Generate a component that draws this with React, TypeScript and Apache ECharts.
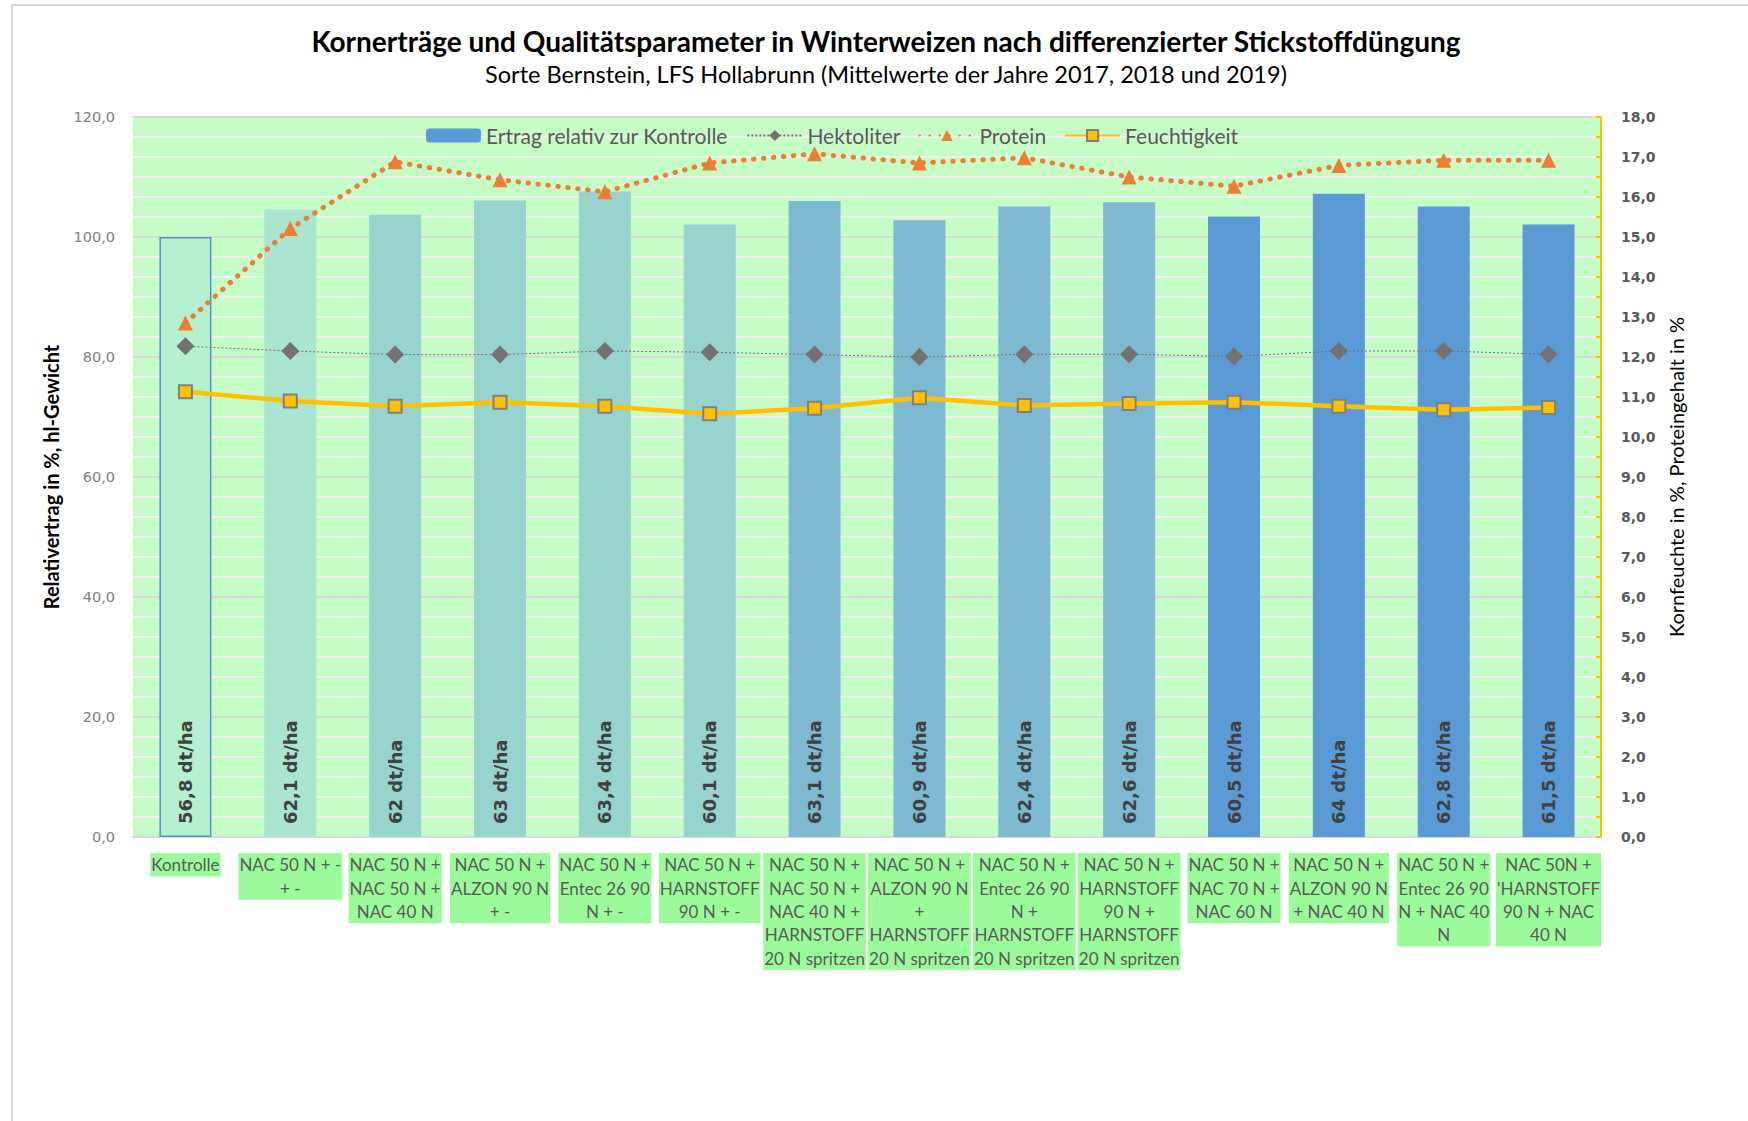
import React, { useEffect, useRef } from "react";
import * as echarts from "echarts";

const categories = [
  "Kontrolle",
  "NAC 50 N + -\n+ -",
  "NAC 50 N +\nNAC 50 N +\nNAC 40 N",
  "NAC 50 N +\nALZON 90 N\n+ -",
  "NAC 50 N +\nEntec 26 90\nN + -",
  "NAC 50 N +\nHARNSTOFF\n90 N + -",
  "NAC 50 N +\nNAC 50 N +\nNAC 40 N +\nHARNSTOFF\n20 N spritzen",
  "NAC 50 N +\nALZON 90 N\n+\nHARNSTOFF\n20 N spritzen",
  "NAC 50 N +\nEntec 26 90\nN +\nHARNSTOFF\n20 N spritzen",
  "NAC 50 N +\nHARNSTOFF\n90 N +\nHARNSTOFF\n20 N spritzen",
  "NAC 50 N +\nNAC 70 N +\nNAC 60 N",
  "NAC 50 N +\nALZON 90 N\n+ NAC 40 N",
  "NAC 50 N +\nEntec 26 90\nN + NAC 40\nN",
  "NAC 50N +\n'HARNSTOFF\n90 N + NAC\n40 N",
];

const relYield = [100, 104.6, 103.7, 106.1, 107.6, 102.1, 106.0, 102.8, 105.1, 105.8, 103.4, 107.2, 105.1, 102.1];
const yieldDtHa = [56.8, 62.1, 62, 63, 63.4, 60.1, 63.1, 60.9, 62.4, 62.6, 60.5, 64, 62.8, 61.5];
const hektoliter = [81.8, 81.0, 80.4, 80.4, 81.0, 80.8, 80.4, 80.0, 80.45, 80.45, 80.1, 81.0, 81.0, 80.45];
const protein = [12.85, 15.21, 16.88, 16.43, 16.13, 16.85, 17.08, 16.85, 16.98, 16.5, 16.27, 16.79, 16.92, 16.92];
const feuchtigkeit = [11.13, 10.9, 10.77, 10.87, 10.77, 10.58, 10.72, 10.98, 10.79, 10.84, 10.87, 10.77, 10.68, 10.74];

const leftTicks = { min: 0, max: 120, interval: 20 };
const rightTicks = { min: 0, max: 18, interval: 1 };

const barFills = [
  "#b5f0d0", "#a9e5d0", "#96d4cd", "#96d4cd", "#96d4cd", "#96d4cd",
  "#7db9d1", "#7db9d1", "#7db9d1", "#7db9d1",
  "#5b9bd5", "#5b9bd5", "#5b9bd5", "#5b9bd5",
];

const comma = (v: number, d: number) => v.toFixed(d).replace(".", ",");
const yieldLabel = (v: number) => String(v).replace(".", ",") + " dt/ha";

const CAL = "Lato, 'Noto Sans', sans-serif";
const VER = "'DejaVu Sans', Verdana, sans-serif";

export default function App() {
  const ref = useRef<HTMLDivElement>(null);
  useEffect(() => {
    if (!ref.current) return;
    const chart = echarts.init(ref.current, null, { renderer: "svg" });
    const option: any = {
      animation: false,
      backgroundColor: "#ffffff",
      graphic: [
        {
          type: "rect",
          z: -10,
          shape: { x: 12, y: 5, width: 1800, height: 1300 },
          style: { fill: "none", stroke: "#d9d9d9", lineWidth: 2 },
        },
        {
          type: "text",
          x: 886,
          y: 41,
          style: {
            text: "Kornerträge und Qualitätsparameter in Winterweizen nach differenzierter Stickstoffdüngung",
            font: `bold 28px ${CAL}`,
            fill: "#000000",
            align: "center",
            verticalAlign: "middle",
          },
        },
        {
          type: "text",
          x: 886,
          y: 74,
          style: {
            text: "Sorte Bernstein, LFS Hollabrunn (Mittelwerte der Jahre 2017, 2018 und 2019)",
            font: `23.5px ${CAL}`,
            fill: "#000000",
            align: "center",
            verticalAlign: "middle",
          },
        },
      ],
      legend: {
        left: 421,
        top: 120,
        itemWidth: 55,
        itemHeight: 14,
        itemGap: 18,
        textStyle: { fontFamily: CAL, fontSize: 21, color: "#595959" },
        data: ["Ertrag relativ zur Kontrolle", "Hektoliter", "Protein", "Feuchtigkeit"],
      },
      grid: {
        left: 133,
        top: 117,
        width: 1468,
        height: 720,
        show: true,
        backgroundColor: "#c6fdc6",
        borderWidth: 0,
      },
      xAxis: {
        type: "category",
        data: categories,
        axisLine: { show: true, lineStyle: { color: "#d9d9d9", width: 2 } },
        axisTick: { show: false },
        axisLabel: {
          interval: 0,
          margin: 16,
          fontFamily: CAL,
          fontSize: 17,
          lineHeight: 23.4,
          color: "#595959",
          backgroundColor: "#9bfb9b",
          padding: [0, 1, 0, 1],
        },
      },
      yAxis: [
        {
          type: "value",
          min: leftTicks.min,
          max: leftTicks.max,
          interval: leftTicks.interval,
          name: "Relativertrag in %, hl-Gewicht",
          nameLocation: "middle",
          nameGap: 72,
          nameTextStyle: { fontFamily: CAL, fontSize: 20, fontWeight: "bold", color: "#000000" },
          axisLine: { show: false },
          axisTick: { show: false },
          axisLabel: {
            margin: 18,
            fontFamily: VER,
            fontSize: 14.5,
            color: "#808080",
            formatter: (v: number) => comma(v, 1),
          },
          splitLine: { show: true, lineStyle: { color: "#d9d9d9", width: 2 } },
          minorTick: { show: false, splitNumber: 6 },
          minorSplitLine: { show: true, lineStyle: { color: "#f0f0f0", width: 2 } },
        },
        {
          type: "value",
          position: "right",
          min: rightTicks.min,
          max: rightTicks.max,
          interval: rightTicks.interval,
          name: "Kornfeuchte in %, Proteingehalt in %",
          nameLocation: "middle",
          nameGap: 64,
          nameRotate: 90,
          nameTextStyle: { fontFamily: CAL, fontSize: 20, color: "#000000" },
          axisLine: { show: true, lineStyle: { color: "#ffc000", width: 2 } },
          axisTick: { show: true, inside: true, length: 5, lineStyle: { color: "#ffc000", width: 2 } },
          minorTick: { show: true, splitNumber: 2, length: 5, lineStyle: { color: "#ffc000", width: 2 } },
          axisLabel: {
            margin: 20,
            fontFamily: VER,
            fontSize: 14,
            fontWeight: "bold",
            color: "#595959",
            formatter: (v: number) => comma(v, 1),
          },
          splitLine: { show: false },
        },
      ],
      series: [
        {
          name: "Ertrag relativ zur Kontrolle",
          type: "bar",
          yAxisIndex: 0,
          barWidth: 52,
          itemStyle: { color: "#5b9bd5" },
          data: relYield.map((v, i) => ({
            value: v,
            itemStyle:
              i === 0
                ? { color: barFills[i], borderColor: "#4f8fd8", borderWidth: 1.5 }
                : { color: barFills[i] },
          })),
          label: {
            show: true,
            position: "insideBottom",
            rotate: 90,
            align: "left",
            verticalAlign: "middle",
            distance: 13,
            fontFamily: VER,
            fontWeight: "bold",
            fontSize: 18,
            color: "#404040",
            formatter: (p: any) => yieldLabel(yieldDtHa[p.dataIndex]),
          },
          z: 2,
        },
        {
          name: "Hektoliter",
          type: "line",
          yAxisIndex: 0,
          data: hektoliter,
          symbol: "diamond",
          symbolSize: 18,
          itemStyle: { color: "#767171" },
          lineStyle: { color: "#767171", width: 1, type: [2, 2] },
          z: 5,
        },
        {
          name: "Protein",
          type: "line",
          yAxisIndex: 1,
          data: protein,
          symbol: "triangle",
          symbolSize: 15,
          itemStyle: { color: "#ed7d31" },
          lineStyle: { color: "#ed7d31", width: 5, type: [0.5, 9.5], cap: "round" },
          z: 6,
        },
        {
          name: "Feuchtigkeit",
          type: "line",
          yAxisIndex: 1,
          data: feuchtigkeit,
          symbol: "rect",
          symbolSize: 13,
          itemStyle: { color: "#ffc000", borderColor: "#7f7f7f", borderWidth: 2 },
          lineStyle: { color: "#ffc000", width: 4.5 },
          z: 7,
        },
      ],
    };
    chart.setOption(option);
    return () => chart.dispose();
  }, []);
  return (
    <div
      ref={ref}
      style={{ position: "fixed", left: 0, top: 0, width: 1748, height: 1121 }}
    />
  );
}
